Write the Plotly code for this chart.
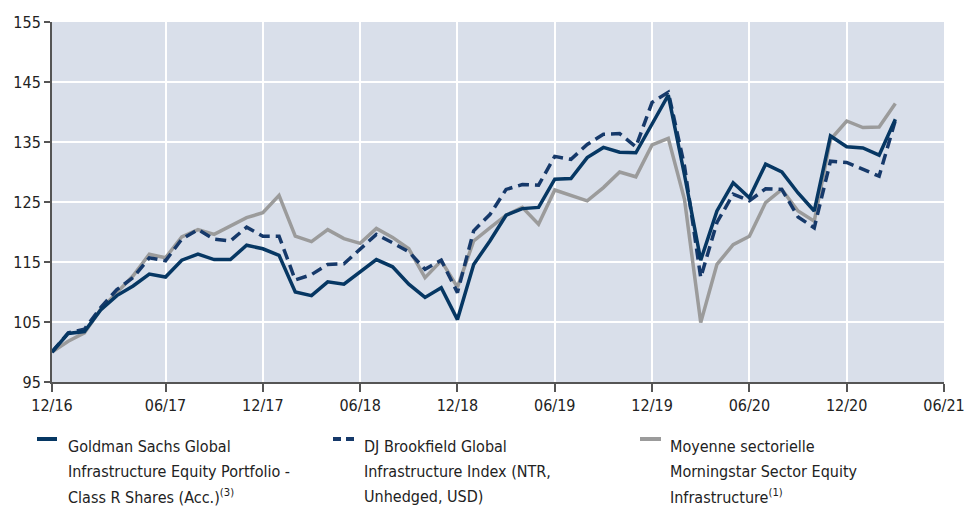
import plotly.graph_objects as go

# Month index (one point per month-end)
months = list(range(53))

gs_fund = [100.0, 103.1, 103.4, 107.0, 109.4, 111.0, 113.0, 112.5, 115.3, 116.3,
           115.4, 115.4, 117.8, 117.2, 116.1, 110.0, 109.4, 111.7, 111.3, 113.4,
           115.4, 114.2, 111.3, 109.1, 110.7, 105.4, 114.6, 118.5, 122.8, 123.9,
           124.1, 128.8, 128.9, 132.4, 134.1, 133.3, 133.2, 138.0, 142.8, 129.5,
           115.3, 123.5, 128.2, 125.7, 131.3, 130.0, 126.5, 123.5, 136.0, 134.2,
           134.0, 132.8, 138.8]

dj_index = [100.0, 103.2, 103.8, 107.4, 110.4, 112.4, 115.7, 115.2, 118.8, 120.4,
            118.8, 118.5, 120.8, 119.3, 119.3, 112.0, 112.9, 114.6, 114.7, 117.1,
            119.6, 118.2, 116.7, 113.8, 115.3, 109.9, 120.2, 122.9, 127.1, 127.9,
            127.8, 132.6, 132.1, 134.6, 136.3, 136.4, 134.2, 141.6, 143.3, 131.0,
            112.4, 121.6, 126.3, 125.2, 127.2, 127.1, 122.5, 120.7, 131.8, 131.6,
            130.5, 129.3, 138.6]

ms_sector = [100.0, 101.8, 103.2, 107.1, 109.9, 112.7, 116.3, 115.7, 119.2, 120.4,
             119.6, 121.0, 122.4, 123.2, 126.1, 119.3, 118.4, 120.4, 118.9, 118.1,
             120.6, 119.1, 117.2, 112.4, 115.2, 110.8, 118.5, 120.7, 122.8, 124.1,
             121.3, 127.0, 126.1, 125.2, 127.4, 130.0, 129.2, 134.5, 135.6, 125.4,
             104.9, 114.6, 117.9, 119.3, 124.9, 127.1, 123.5, 121.8, 135.4, 138.5,
             137.4, 137.5, 141.4]

tick_vals = [0, 7, 13, 19, 25, 31, 37, 43, 49, 55]
tick_text = ["12/16", "06/17", "12/17", "06/18", "12/18", "06/19", "12/19", "06/20", "12/20", "06/21"]
y_ticks = [95, 105, 115, 125, 135, 145, 155]

legend_lines = [
    ["Goldman Sachs Global", "Infrastructure Equity Portfolio -", "Class R Shares (Acc.)<sup>(3)</sup>"],
    ["DJ Brookfield Global", "Infrastructure Index (NTR,", "Unhedged, USD)"],
    ["Moyenne sectorielle", "Morningstar Sector Equity", "Infrastructure<sup>(1)</sup>"],
]
series_names = ["Goldman Sachs Global Infrastructure Equity Portfolio - Class R Shares (Acc.)",
                "DJ Brookfield Global Infrastructure Index (NTR, Unhedged, USD)",
                "Moyenne sectorielle Morningstar Sector Equity Infrastructure"]

FONT = "DejaVu Sans Condensed, Liberation Sans Narrow, Arial Narrow, Roboto, sans-serif"
TXT = "#222222"
NAVY = "#063763"
NAVY2 = "#16396a"
GRAY = "#9b9b9b"

W, H = 965, 508
L, R, T, B = 52, 21, 22, 126
PW, PH = W - L - R, H - T - B


def px(xpix):
    return (xpix - L) / PW


def py(ypix):
    return (H - B - ypix) / PH


fig = go.Figure()
fig.add_trace(go.Scatter(x=months, y=ms_sector, mode="lines", name=series_names[2],
                         line=dict(color=GRAY, width=3.5)))
fig.add_trace(go.Scatter(x=months, y=dj_index, mode="lines", name=series_names[1],
                         line=dict(color=NAVY2, width=3.5, dash="11px,6px")))
fig.add_trace(go.Scatter(x=months, y=gs_fund, mode="lines", name=series_names[0],
                         line=dict(color=NAVY, width=3.5)))

# Manual legend
legend_text_x = [66, 362, 668]
legend_sym = [(37, 57, NAVY, "solid"), (333, 356, NAVY2, "8px,5px"), (640, 661, GRAY, "solid")]
row_y = [446, 471, 496]
annotations = []
shapes = []
for k in range(3):
    for j, line in enumerate(legend_lines[k]):
        annotations.append(dict(
            xref="paper", yref="paper", x=px(legend_text_x[k]), y=py(row_y[j]),
            xanchor="left", yanchor="middle", text=line, showarrow=False,
            font=dict(family=FONT, size=16, color=TXT), align="left"))
    x0, x1, col, dash = legend_sym[k]
    shapes.append(dict(type="line", xref="paper", yref="paper",
                       x0=px(x0), x1=px(x1), y0=py(439), y1=py(439),
                       line=dict(color=col, width=4, dash=dash)))

fig.update_layout(
    width=W, height=H,
    margin=dict(l=L, r=R, t=T, b=B),
    paper_bgcolor="white",
    plot_bgcolor="#d9dfea",
    font=dict(family=FONT, size=16, color=TXT),
    showlegend=False,
    annotations=annotations,
    shapes=shapes,
)
fig.update_xaxes(range=[0, 55], tickmode="array", tickvals=tick_vals, ticktext=tick_text,
                 showgrid=True, gridcolor="white", gridwidth=2,
                 showline=True, linecolor="#555555", linewidth=2,
                 ticks="outside", ticklen=8, tickcolor="#555555", tickwidth=1.5,
                 zeroline=False, tickfont=dict(size=16), automargin=False,
                 ticklabeloverflow="allow")
fig.update_yaxes(range=[95, 155], tickmode="array", tickvals=y_ticks,
                 showgrid=True, gridcolor="white", gridwidth=2,
                 showline=True, linecolor="#555555", linewidth=2,
                 ticks="outside", ticklen=6, tickcolor="#555555", tickwidth=1.5,
                 zeroline=False, tickfont=dict(size=16), automargin=False)

fig.write_html("out.html",
               config={"displayModeBar": False},
               post_script="document.body.style.margin='0';document.body.style.padding='0';"
                           "document.body.style.overflow='hidden';")
